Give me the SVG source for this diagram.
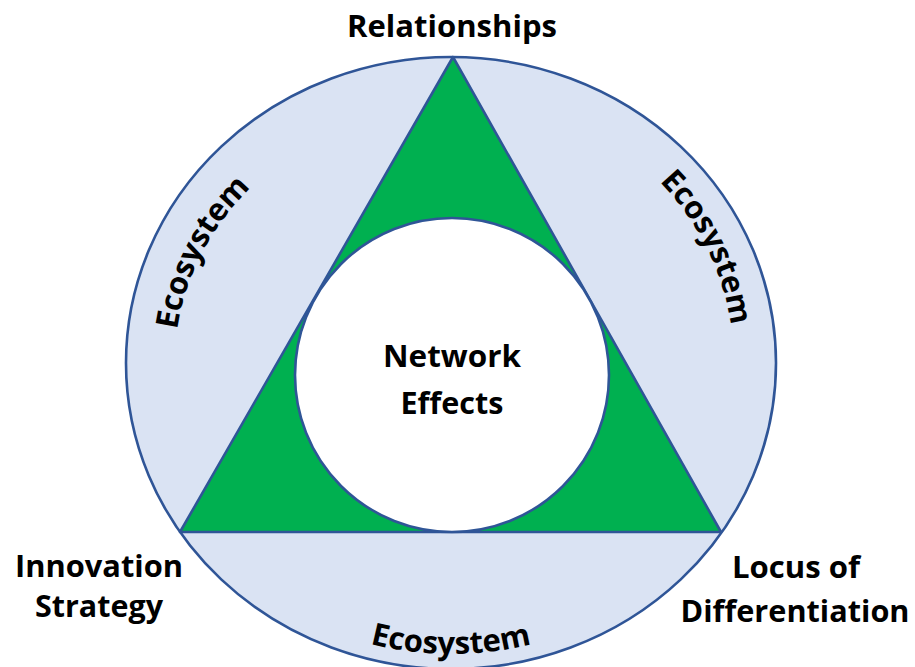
<svg xmlns="http://www.w3.org/2000/svg" width="915" height="667" viewBox="0 0 915 667">
<style>
.ln{stroke:#2F5597;stroke-width:2.6}
.t{font-family:"Open Sans","Liberation Sans",sans-serif;font-weight:700;font-size:31px;fill:#000}
.c{text-anchor:middle}
</style>
<defs>
<path id="arcL" d="M 223.6 508.8 A 268 252 0 0 1 421.3 112.5"/>
<path id="arcR" d="M 481.8 97.6 A 280 264 0 0 1 680.7 514.3"/>
<path id="arcB" d="M 232.5 568.8 A 309 291 0 0 0 669.5 568.8"/>
</defs>
<rect width="915" height="667" fill="#fff"/>
<g id="ecosystem">
<ellipse cx="451" cy="363" rx="325" ry="306" fill="#DAE3F3" class="ln"/>
</g>
<g id="triangle">
<polygon points="453,57 180,532 721,532" fill="#00B050" class="ln" stroke-linejoin="round"/>
</g>
<g id="network-effects">
<circle cx="452" cy="375" r="157" fill="#fff" class="ln"/>
<text class="t c" x="452" y="367" textLength="138" lengthAdjust="spacingAndGlyphs">Network</text>
<text class="t c" x="452" y="414" textLength="103" lengthAdjust="spacingAndGlyphs">Effects</text>
</g>
<g id="relationships">
<text class="t c" x="452" y="37" textLength="210" lengthAdjust="spacingAndGlyphs">Relationships</text>
</g>
<g id="innovation-strategy">
<text class="t c" x="99" y="577" textLength="168" lengthAdjust="spacingAndGlyphs">Innovation</text>
<text class="t c" x="99" y="617" textLength="128" lengthAdjust="spacingAndGlyphs">Strategy</text>
</g>
<g id="locus">
<text class="t c" x="796" y="578" textLength="128" lengthAdjust="spacingAndGlyphs">Locus of</text>
<text class="t c" x="795" y="622" textLength="229" lengthAdjust="spacingAndGlyphs">Differentiation</text>
</g>
<g id="ecosystem-labels">
<text class="t"><textPath href="#arcL" startOffset="50%" text-anchor="middle">Ecosystem</textPath></text>
<text class="t"><textPath href="#arcR" startOffset="50%" text-anchor="middle">Ecosystem</textPath></text>
<text class="t"><textPath href="#arcB" startOffset="50%" text-anchor="middle">Ecosystem</textPath></text>
</g>
</svg>
